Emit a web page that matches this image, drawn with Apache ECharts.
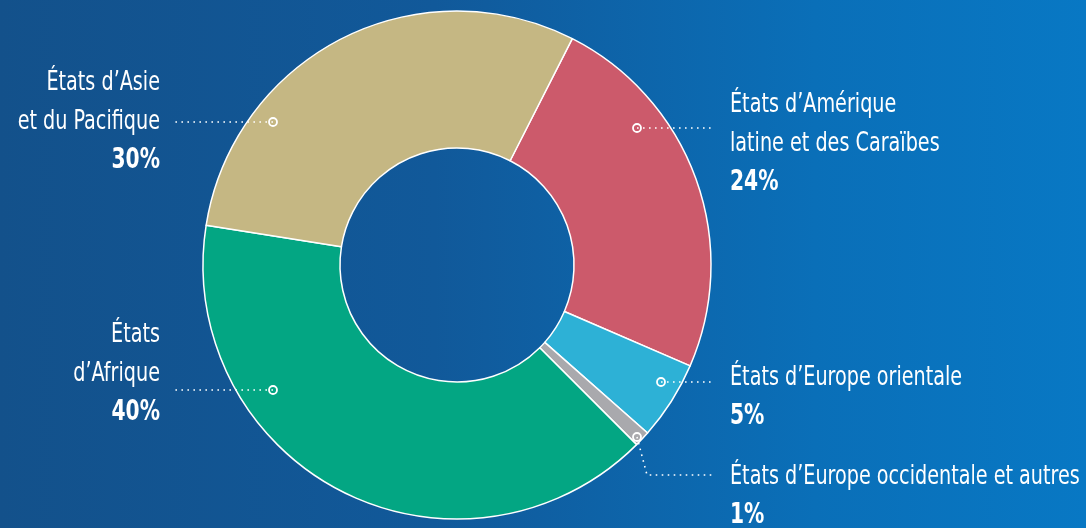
<!DOCTYPE html>
<html><head><meta charset="utf-8">
<script src="https://cdn.jsdelivr.net/npm/echarts@6/dist/echarts.min.js"></script>
<style>
html,body{margin:0;padding:0;width:1086px;height:528px;overflow:hidden;}
body{background:linear-gradient(90deg,#13518b 0%,#11599a 40%,#0a6fb8 75%,#0878c4 100%);}
#c{width:1086px;height:528px;}
</style></head>
<body><div id="c"></div>
<script>
const categories = ["États d’Amérique\nlatine et des Caraïbes","États d’Europe orientale","États d’Europe occidentale et autres","États\nd’Afrique","États d’Asie\net du Pacifique"];
const values = [24, 5, 1, 40, 30];
const colors = ["#cc5a6b","#2db1d6","#a9a9ad","#03a683","#c5b783"];

// label placement (layout only)
const labelPlace = [
  {x:730, y:144, align:'left', pts:[[637,128],[712,128]]},
  {x:730, y:397, align:'left', pts:[[661,382],[712,382]]},
  {x:730, y:496, align:'left', pts:[[637,437],[647,475],[712,475]]},
  {x:160, y:374, align:'right', pts:[[273,390],[173,390]]},
  {x:160, y:122, align:'right', pts:[[273,122],[173,122]]}
];

const FONT = "'DejaVu Sans Condensed','Liberation Sans Narrow',sans-serif";
const graphics = [];
labelPlace.forEach((p,i)=>{
  graphics.push({type:'polyline', shape:{points:p.pts},
    style:{stroke:'#fff', lineWidth:1.6, lineDash:[1.6,4.4], fill:null}, z:90});
  graphics.push({type:'circle', shape:{cx:p.pts[0][0], cy:p.pts[0][1], r:4},
    style:{fill:'none', stroke:'#fff', lineWidth:1.8}, z:100});
  const txt = categories[i].split('\n').map(s=>'{n|'+s+'}').join('\n') + '\n{p|' + values[i] + '%}';
  graphics.push({type:'text', x:p.x, y:p.y, scaleX:0.79, z:100,
    style:{text:txt, align:p.align, verticalAlign:'middle', fill:'#fff',
      rich:{
        n:{fontFamily:FONT, fontSize:27, lineHeight:39, fill:'#fff', align:p.align},
        p:{fontFamily:FONT, fontSize:28.5, fontWeight:'bold', lineHeight:39, fill:'#fff', align:p.align}
      }}});
});

const chart = echarts.init(document.getElementById('c'), null, {renderer:'canvas'});
chart.setOption({
  backgroundColor: 'transparent',
  animation: false,
  graphic: graphics,
  series: [{
    type:'pie',
    center:[457,265],
    radius:[117,254],
    startAngle:63,
    clockwise:true,
    emphasis:{disabled:true},
    itemStyle:{borderColor:'#fff', borderWidth:1.5},
    label:{show:false},
    labelLine:{show:false},
    data: categories.map((n,i)=>({name:n, value:values[i], itemStyle:{color:colors[i]}}))
  }]
});
</script>
</body></html>
